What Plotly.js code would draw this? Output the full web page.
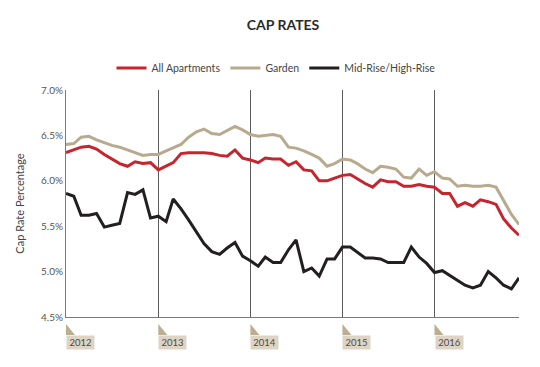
<!DOCTYPE html>
<html>
<head>
<meta charset="utf-8">
<script src="https://cdn.plot.ly/plotly-3.0.1.min.js"></script>
<style>html,body{margin:0;padding:0;background:#fff;}#chart{width:540px;height:367px;}</style>
</head>
<body>
<div id="chart"></div>
<script>
const months = [
 '2012-01','2012-02','2012-03','2012-04','2012-05','2012-06','2012-07','2012-08','2012-09','2012-10','2012-11','2012-12',
 '2013-01','2013-02','2013-03','2013-04','2013-05','2013-06','2013-07','2013-08','2013-09','2013-10','2013-11','2013-12',
 '2014-01','2014-02','2014-03','2014-04','2014-05','2014-06','2014-07','2014-08','2014-09','2014-10','2014-11','2014-12',
 '2015-01','2015-02','2015-03','2015-04','2015-05','2015-06','2015-07','2015-08','2015-09','2015-10','2015-11','2015-12',
 '2016-01','2016-02','2016-03','2016-04','2016-05','2016-06','2016-07','2016-08','2016-09','2016-10','2016-11','2016-12'
];
const allApartments = [
 6.31,6.34,6.37,6.38,6.35,6.29,6.24,6.19,6.16,6.21,6.19,6.20,
 6.12,6.16,6.20,6.30,6.31,6.31,6.31,6.30,6.28,6.27,6.34,6.25,
 6.23,6.20,6.25,6.24,6.24,6.17,6.21,6.12,6.11,6.00,6.00,6.03,
 6.06,6.07,6.02,5.97,5.93,6.01,5.99,5.99,5.94,5.94,5.96,5.94,
 5.93,5.86,5.86,5.72,5.76,5.72,5.79,5.77,5.74,5.58,5.48,5.40
];
const garden = [
 6.40,6.41,6.48,6.49,6.45,6.42,6.39,6.37,6.34,6.31,6.28,6.29,
 6.29,6.33,6.36,6.40,6.48,6.54,6.57,6.52,6.51,6.55,6.60,6.56,
 6.51,6.49,6.50,6.51,6.49,6.37,6.36,6.33,6.29,6.25,6.16,6.19,
 6.24,6.23,6.19,6.13,6.09,6.16,6.15,6.13,6.04,6.03,6.13,6.06,
 6.10,6.03,6.02,5.94,5.95,5.94,5.94,5.95,5.93,5.78,5.63,5.52
];
const midHighRise = [
 5.86,5.83,5.62,5.62,5.64,5.49,5.51,5.53,5.87,5.85,5.90,5.59,
 5.61,5.55,5.80,5.69,5.57,5.44,5.31,5.22,5.19,5.26,5.32,5.17,
 5.12,5.06,5.16,5.10,5.10,5.24,5.35,5.00,5.04,4.95,5.14,5.14,
 5.27,5.27,5.21,5.15,5.15,5.14,5.10,5.10,5.10,5.27,5.16,5.09,
 4.99,5.01,4.96,4.90,4.85,4.82,4.85,5.00,4.93,4.85,4.81,4.93
];
const seriesNames = ['All Apartments','Garden','Mid-Rise/High-Rise'];
const yearLabels = ['2012','2013','2014','2015','2016'];

const FONT = 'Lato, "Open Sans", sans-serif';
const colors = ['#c7252e','#b8aa8e','#231f20'];
const seriesData = [allApartments, garden, midHighRise];

const traces = seriesData.map((vals, i) => ({
  type: 'scatter', mode: 'lines',
  x: months, y: vals, name: seriesNames[i],
  line: {color: colors[i], width: 3, shape: 'linear'},
  hoverinfo: 'skip'
}));

const annotations = yearLabels.map(y => ({
  x: y + '-01-01', xref: 'x', y: 0, yref: 'paper',
  xanchor: 'left', yanchor: 'top', yshift: -18,
  text: y, showarrow: false,
  bgcolor: '#ddd4c5', width: 25, height: 11, borderpad: 1,
  font: {family: FONT, size: 9.5, color: '#4a4a4a'}, align: 'center'
}));

const shapes = yearLabels.map(y => ({
  type: 'path', xref: 'x', yref: 'paper',
  xsizemode: 'pixel', ysizemode: 'pixel',
  xanchor: y + '-01-01', yanchor: 0,
  path: 'M0,-7 L0,-18 L9,-18 Z',
  fillcolor: '#bcae90', line: {width: 0}
}));

const layout = {
  width: 540, height: 367,
  margin: {l: 66, r: 21, t: 90, b: 50},
  paper_bgcolor: '#ffffff', plot_bgcolor: '#ffffff',
  font: {family: FONT, color: '#444'},
  title: {
    text: 'CAP RATES',
    x: 283/540, xref: 'container', xanchor: 'center',
    y: 1 - 25/367, yref: 'container', yanchor: 'middle',
    font: {family: FONT, size: 14, color: '#2b2b2b', weight: 'bold'}
  },
  showlegend: true,
  legend: {
    orientation: 'h', xref: 'container', yref: 'container',
    x: 276/540, xanchor: 'center', y: 1 - 68/367, yanchor: 'middle',
    font: {family: FONT, size: 10.5, color: '#444'},
    itemwidth: 30, traceorder: 'normal'
  },
  xaxis: {
    type: 'date',
    range: ['2012-01-01', '2016-12-01'],
    showgrid: true, gridcolor: '#5a5a5a', gridwidth: 1,
    dtick: 'M12', tick0: '2012-01-01',
    showticklabels: false, ticks: '',
    showline: true, linecolor: '#7a7a7a', linewidth: 1,
    zeroline: false, fixedrange: true
  },
  yaxis: {
    range: [4.5, 7.0], dtick: 0.5, tick0: 4.5,
    tickformat: '.1f', ticksuffix: '%',
    showgrid: false, zeroline: false,
    showline: true, linecolor: '#7a7a7a', linewidth: 1,
    ticks: '', tickfont: {family: FONT, size: 10, color: '#555'},
    title: {text: 'Cap Rate Percentage', font: {family: FONT, size: 11, color: '#444'}, standoff: 14},
    fixedrange: true
  },
  annotations: annotations,
  shapes: shapes
};

Plotly.newPlot('chart', traces, layout, {displayModeBar: false, staticPlot: true});
</script>
</body>
</html>
